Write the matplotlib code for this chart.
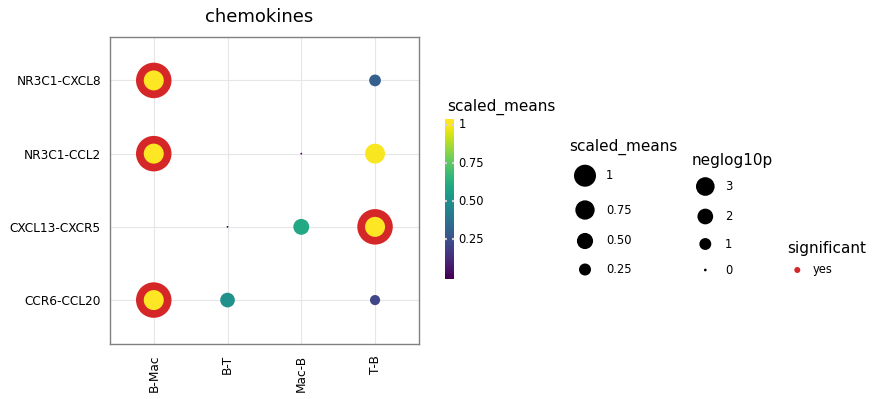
import numpy as np
import matplotlib
matplotlib.use("Agg")
import matplotlib.pyplot as plt

# ---- data ----
pairs = ['B-Mac', 'B-T', 'Mac-B', 'T-B']
interactions = ['CCR6-CCL20', 'CXCL13-CXCR5', 'NR3C1-CCL2', 'NR3C1-CXCL8']

point_pair = ['B-Mac', 'B-Mac', 'B-Mac', 'T-B', 'T-B', 'T-B', 'T-B',
              'Mac-B', 'Mac-B', 'B-T', 'B-T']
point_interaction = ['NR3C1-CXCL8', 'NR3C1-CCL2', 'CCR6-CCL20',
                     'NR3C1-CXCL8', 'NR3C1-CCL2', 'CXCL13-CXCR5', 'CCR6-CCL20',
                     'NR3C1-CCL2', 'CXCL13-CXCR5',
                     'CXCL13-CXCR5', 'CCR6-CCL20']
scaled_means = [1.0, 1.0, 1.0, 0.30, 0.99, 1.0, 0.21, 0.0, 0.60, 0.0, 0.50]
significant = ['yes', 'yes', 'yes', 'no', 'no', 'yes', 'no', 'no', 'no', 'no', 'no']

cbar_breaks = [0.25, 0.50, 0.75, 1.0]
cbar_labels = ['0.25', '0.50', '0.75', '1']
size_breaks = [1.0, 0.75, 0.50, 0.25]
size_labels = ['1', '0.75', '0.50', '0.25']
p_breaks = [3, 2, 1, 0]
p_labels = ['3', '2', '1', '0']

# ---- helpers ----
W, H = 892, 399
DPI = 100
def px2pt(d):
    return d * 72.0 / DPI
def area(d_px):
    return px2pt(d_px) ** 2
def fx(x):
    return x / W
def fy(y):
    return 1 - y / H

cmap = matplotlib.colormaps['viridis']

fig = plt.figure(figsize=(W / DPI, H / DPI), dpi=DPI)
fig.patch.set_facecolor('white')

ax = fig.add_axes([fx(109.5), fy(344), (419.3 - 109.5) / W, (344 - 36.5) / H])
ax.set_xlim(-0.6, 3.6)
ax.set_ylim(-0.6, 3.6)
ax.set_xticks(range(len(pairs)))
ax.set_xticklabels(pairs, rotation=90, fontsize=8.7)
ax.set_yticks(range(len(interactions)))
ax.set_yticklabels(interactions, fontsize=8.7)
ax.tick_params(length=0)
ax.tick_params(axis='y', pad=6.2)
ax.tick_params(axis='x', pad=7.8)
ax.grid(True, color='#e6e6e6', lw=0.8)
ax.set_axisbelow(True)
for s in ax.spines.values():
    s.set_color('#808080')
    s.set_linewidth(1.0)

xi = np.array([pairs.index(p) for p in point_pair])
yi = np.array([interactions.index(i) for i in point_interaction])
sm = np.array(scaled_means)
sig = np.array(significant) == 'yes'

# significant rings
ax.scatter(xi[sig], yi[sig], s=area(35.5), color='#d62728', edgecolors='none', zorder=3)
# coloured points
diam = 1.8 + 18.2 * np.sqrt(sm)
ax.scatter(xi, yi, s=area(diam), c=sm, cmap=cmap, vmin=0, vmax=1,
           edgecolors='none', zorder=4)

fig.text(fx(258.7), fy(17.5), 'chemokines', fontsize=13, ha='center', va='center')

# ---- colorbar ----
cax = fig.add_axes([fx(445.3), fy(279), 9 / W, 160 / H])
lo, hi = -0.0105, 1.039
grad = np.linspace(lo, hi, 300).reshape(-1, 1)
cax.imshow(np.clip(grad, 0, 1), aspect='auto', cmap=cmap, vmin=0, vmax=1,
           origin='lower', extent=[0, 1, lo, hi])
cax.set_xlim(0, 1)
cax.set_ylim(lo, hi)
cax.axis('off')
for b in cbar_breaks:
    cax.plot([0, 0.22], [b, b], color='#d0d0d0', lw=1.6, solid_capstyle='butt')
    cax.plot([0.78, 1], [b, b], color='#d0d0d0', lw=1.6, solid_capstyle='butt')
for b, lab in zip(cbar_breaks, cbar_labels):
    yy = 277.4 - b * 152.4
    fig.text(fx(458.5), fy(yy), lab, fontsize=8.3, ha='left', va='center')
fig.text(fx(447), fy(106.7), 'scaled_means', fontsize=11, ha='left', va='center')

# ---- legend overlay axes in pixel coords ----
lax = fig.add_axes([0, 0, 1, 1], facecolor='none')
lax.set_xlim(0, W)
lax.set_ylim(H, 0)
lax.axis('off')

# size legend: scaled_means
fig.text(fx(569.3), fy(146.7), 'scaled_means', fontsize=11, ha='left', va='center')
sl_y = [175.7, 210.0, 241.0, 269.5]
sl_d = 2.0 + 20.0 * np.sqrt(np.array(size_breaks))
lax.scatter([585] * len(size_breaks), sl_y, s=area(sl_d), color='black', edgecolors='none')
for yy, lab in zip(sl_y, size_labels):
    fig.text(fx(606), fy(yy), lab, fontsize=8.3, ha='left', va='center')

# size legend: neglog10p
fig.text(fx(691.5), fy(161), 'neglog10p', fontsize=11, ha='left', va='center')
pl_y = [186.5, 216.5, 244.0, 270.0]
pl_d = 2.7 + 9.2 * np.sqrt(np.array(p_breaks, dtype=float))
lax.scatter([705.3] * len(p_breaks), pl_y, s=area(pl_d), color='black', edgecolors='none')
for yy, lab in zip(pl_y, p_labels):
    fig.text(fx(725), fy(yy), lab, fontsize=8.3, ha='left', va='center')

# colour legend: significant
fig.text(fx(787), fy(248.5), 'significant', fontsize=11, ha='left', va='center')
lax.scatter([797.3], [270], s=area(6), color='#d62728', edgecolors='none')
fig.text(fx(812.7), fy(269.5), 'yes', fontsize=8.3, ha='left', va='center')

fig.savefig('out.png', dpi=DPI)
